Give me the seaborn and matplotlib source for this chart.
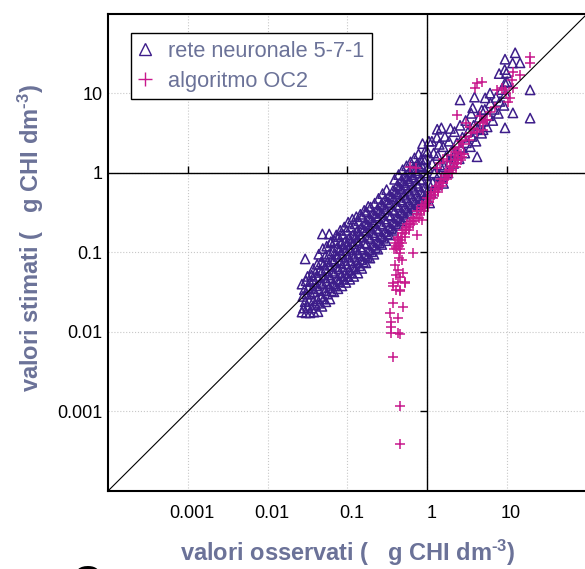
import matplotlib
matplotlib.use("Agg")
import matplotlib.pyplot as plt
from matplotlib.lines import Line2D
from matplotlib.transforms import ScaledTranslation
import seaborn as sns

# rete neuronale 5-7-1 (valori osservati / stimati, ug CHI dm-3)
tri_x = [
    0.0269, 0.0282, 0.0295, 0.0276, 0.0288, 0.0269, 0.0295,
    0.0302, 0.0316, 0.0331, 0.0309, 0.0323, 0.0302, 0.0316,
    0.0339, 0.0355, 0.0372, 0.0347, 0.0363, 0.0339, 0.0355, 0.0372,
    0.0380, 0.0398, 0.0417, 0.0389, 0.0407, 0.0380, 0.0398, 0.0417,
    0.0427, 0.0447, 0.0468, 0.0437, 0.0457, 0.0427, 0.0447, 0.0468, 0.0437,
    0.0479, 0.0501, 0.0525, 0.0490, 0.0513, 0.0479, 0.0501, 0.0525, 0.0490, 0.0485, 0.059, 0.062,
    0.0537, 0.0562, 0.0589, 0.0549, 0.0575, 0.0537, 0.0562, 0.0589, 0.0549,
    0.0603, 0.0631, 0.0661, 0.0617, 0.0646, 0.0603, 0.0631, 0.0661, 0.0617,
    0.0676, 0.0708, 0.0741, 0.0692, 0.0724, 0.0676, 0.0708, 0.0741, 0.0692, 0.0724,
    0.0759, 0.0794, 0.0832, 0.0776, 0.0813, 0.0759, 0.0794, 0.0832, 0.0776, 0.0813,
    0.0851, 0.0891, 0.0933, 0.0871, 0.0912, 0.0851, 0.0891, 0.0933, 0.0871, 0.0912,
    0.0955, 0.100, 0.105, 0.0977, 0.102, 0.0955, 0.100, 0.105, 0.0977, 0.102,
    0.107, 0.112, 0.117, 0.110, 0.115, 0.107, 0.112, 0.117, 0.110, 0.115,
    0.120, 0.126, 0.132, 0.123, 0.129, 0.120, 0.126, 0.132, 0.123, 0.129,
    0.135, 0.141, 0.148, 0.138, 0.145, 0.135, 0.141, 0.148, 0.138, 0.145,
    0.151, 0.158, 0.165, 0.154, 0.162, 0.151, 0.158, 0.165, 0.154, 0.162,
    0.170, 0.178, 0.186, 0.174, 0.182, 0.170, 0.178, 0.186, 0.174, 0.182,
    0.191, 0.200, 0.209, 0.195, 0.205, 0.191, 0.200, 0.209, 0.195,
    0.214, 0.224, 0.235, 0.219, 0.229, 0.214, 0.224, 0.235, 0.219,
    0.240, 0.251, 0.263, 0.245, 0.257, 0.240, 0.251, 0.263, 0.245,
    0.269, 0.282, 0.295, 0.275, 0.288, 0.269, 0.282, 0.295, 0.275,
    0.302, 0.316, 0.331, 0.309, 0.323, 0.302, 0.316, 0.331, 0.309,
    0.339, 0.355, 0.372, 0.347, 0.363, 0.339, 0.355, 0.372,
    0.380, 0.398, 0.417, 0.389, 0.407, 0.380, 0.398, 0.417, 0.389,
    0.427, 0.447, 0.468, 0.437, 0.457, 0.427, 0.447, 0.468, 0.437,
    0.479, 0.501, 0.525, 0.490, 0.513, 0.479, 0.501, 0.525, 0.490,
    0.537, 0.562, 0.589, 0.549, 0.575, 0.537, 0.562, 0.589, 0.549,
    0.603, 0.631, 0.661, 0.617, 0.646, 0.603, 0.631, 0.661, 0.617,
    0.676, 0.708, 0.741, 0.692, 0.724, 0.676, 0.708, 0.741, 0.692,
    0.759, 0.794, 0.832, 0.776, 0.813, 0.759, 0.794, 0.832, 0.776,
    0.851, 0.891, 0.933, 0.871, 0.912, 0.851, 0.891, 0.933, 0.871,
    0.955, 1.0, 1.047, 0.977, 1.023, 0.955, 1.0, 1.047,
    1.12, 1.17, 1.22, 1.15, 1.20, 1.14,
    1.32, 1.38, 1.44, 1.35, 1.41, 1.33,
    1.55, 1.62, 1.70, 1.58, 1.66,
    1.82, 1.91, 2.00, 1.87, 1.95,
    2.14, 2.24, 2.34, 2.19,
    2.51, 2.63, 2.75, 2.57,
    2.95, 3.09, 3.24, 3.02,
    3.47, 3.63, 3.80, 3.55,
    4.07, 4.27, 4.47,
    4.79, 5.01, 5.25,
    5.62, 5.89, 6.17,
    6.61, 6.92, 7.24,
    7.76, 8.13, 8.51, 7.94,
    9.12, 9.55, 10.0, 9.33,
    2.57, 3.7, 4.8, 4.2, 2.40, 1.6, 1.07, 1.32, 1.5, 12.6, 9.4, 14.5,
    11.7, 9.8, 9.4, 19.4, 11.8, 19.4, 9.4, 5.0, 3.9, 5.3, 6.1,
]
tri_y = [
    0.0178, 0.020, 0.024, 0.028, 0.034, 0.040, 0.083,
    0.0174, 0.021, 0.025, 0.030, 0.036, 0.044, 0.050,
    0.0174, 0.020, 0.0245, 0.030, 0.035, 0.043, 0.052, 0.063,
    0.0178, 0.022, 0.026, 0.032, 0.038, 0.046, 0.056, 0.071,
    0.018, 0.023, 0.028, 0.035, 0.042, 0.050, 0.060, 0.076, 0.095,
    0.021, 0.026, 0.033, 0.040, 0.048, 0.058, 0.071, 0.089, 0.112, 0.171, 0.171, 0.137,
    0.024, 0.030, 0.036, 0.044, 0.052, 0.063, 0.076, 0.095, 0.120,
    0.026, 0.033, 0.040, 0.048, 0.058, 0.069, 0.083, 0.105, 0.132,
    0.032, 0.038, 0.046, 0.055, 0.066, 0.079, 0.095, 0.115, 0.141, 0.166,
    0.035, 0.043, 0.051, 0.062, 0.074, 0.089, 0.107, 0.129, 0.158, 0.19,
    0.038, 0.046, 0.055, 0.066, 0.079, 0.095, 0.115, 0.138, 0.17, 0.209,
    0.042, 0.050, 0.060, 0.072, 0.087, 0.105, 0.126, 0.151, 0.19, 0.24,
    0.046, 0.055, 0.066, 0.079, 0.095, 0.115, 0.138, 0.166, 0.209, 0.263,
    0.050, 0.062, 0.074, 0.089, 0.107, 0.129, 0.155, 0.186, 0.229, 0.282,
    0.055, 0.068, 0.081, 0.098, 0.117, 0.141, 0.17, 0.204, 0.251, 0.302,
    0.063, 0.076, 0.091, 0.110, 0.132, 0.158, 0.19, 0.229, 0.282, 0.339,
    0.074, 0.089, 0.107, 0.129, 0.155, 0.186, 0.224, 0.269, 0.324, 0.38,
    0.085, 0.102, 0.123, 0.148, 0.178, 0.214, 0.257, 0.309, 0.372,
    0.095, 0.115, 0.138, 0.166, 0.20, 0.24, 0.288, 0.347, 0.417,
    0.110, 0.132, 0.158, 0.19, 0.229, 0.275, 0.331, 0.398, 0.479,
    0.126, 0.151, 0.182, 0.219, 0.263, 0.316, 0.38, 0.457, 0.55,
    0.141, 0.17, 0.204, 0.245, 0.295, 0.355, 0.427, 0.513, 0.617,
    0.166, 0.20, 0.24, 0.288, 0.347, 0.417, 0.50, 0.603,
    0.19, 0.229, 0.275, 0.331, 0.398, 0.479, 0.575, 0.692, 0.832,
    0.219, 0.263, 0.316, 0.38, 0.457, 0.55, 0.661, 0.794, 0.955,
    0.251, 0.302, 0.363, 0.437, 0.525, 0.631, 0.759, 0.912, 1.10,
    0.282, 0.339, 0.407, 0.49, 0.589, 0.708, 0.851, 1.02, 1.23,
    0.316, 0.38, 0.457, 0.55, 0.661, 0.794, 0.955, 1.15, 1.38,
    0.355, 0.427, 0.513, 0.617, 0.741, 0.891, 1.07, 1.29, 1.55,
    0.398, 0.479, 0.575, 0.692, 0.832, 1.0, 1.20, 1.45, 1.74,
    0.437, 0.537, 0.661, 0.813, 1.0, 1.23, 1.51, 1.86, 2.34,
    0.468, 0.589, 0.741, 0.933, 1.17, 1.48, 1.86, 2.51,
    0.562, 0.759, 1.0, 1.32, 1.78, 2.51,
    0.708, 0.933, 1.26, 1.66, 2.29, 3.55,
    0.891, 1.20, 1.58, 2.14, 2.88,
    1.0, 1.38, 1.86, 2.51, 3.63,
    1.32, 1.78, 2.40, 3.31,
    1.51, 2.09, 2.82, 3.98,
    1.78, 2.40, 3.31, 4.57,
    2.14, 2.88, 3.98, 5.62,
    2.51, 3.55, 5.01,
    3.16, 4.47, 6.31,
    3.80, 5.25, 7.59,
    4.57, 6.31, 8.91,
    5.62, 7.94, 11.2, 17.8,
    7.08, 10.0, 14.1, 20.0,
    8.3, 6.6, 6.2, 1.6, 1.70, 0.74, 0.42, 2.8, 3.7, 32.5, 27.0, 24.3,
    24.2, 18.2, 13.6, 11.1, 5.7, 4.9, 3.7, 3.5, 9.0, 8.8, 10.1,
]

# algoritmo OC2
oc2_x = [
    0.380, 0.417, 0.457, 0.407, 0.447, 0.398, 0.437, 0.479, 0.427, 0.468,
    0.432, 0.473, 0.519, 0.479, 0.525, 0.490, 0.537, 0.589, 0.543, 0.596,
    0.556, 0.610, 0.668, 0.624, 0.684, 0.653, 0.716, 0.785, 0.733, 0.804,
    0.750, 0.822, 0.902, 0.832, 0.912, 0.851, 0.933, 1.023, 0.955, 1.047,
    0.989, 1.084, 1.189, 1.096, 1.202, 1.122, 1.230, 1.349, 1.259, 1.380,
    1.288, 1.413, 1.549, 1.445, 1.585, 1.479, 1.622, 1.778, 1.660, 1.820,
    1.698, 1.862, 2.042, 1.884, 2.065, 1.928, 2.113, 2.317, 2.163, 2.371,
    2.213, 2.427, 2.661, 2.455, 2.692, 2.630, 2.884,
    0.43, 0.45, 0.48, 0.43, 0.49, 0.37, 0.45, 0.37, 0.49, 0.34,
    0.355, 0.355, 0.425, 0.45, 0.355, 0.37, 0.46, 0.45, 0.66, 0.74,
    0.52, 0.43, 0.37, 0.52, 0.41, 0.46, 0.43, 0.40, 0.44, 0.39,
    0.46, 0.40, 0.87,
    2.00, 2.29, 2.14, 2.51, 2.82, 2.63, 3.09, 3.31, 3.55, 3.80,
    4.17, 3.39, 4.57, 5.01, 5.25, 5.62, 3.09, 6.03, 7.08, 5.01,
    2.34, 4.57, 7.41, 9.33, 8.71, 9.77, 11.0, 10.2, 11.7, 11.5,
    11.7, 14.5, 19.5, 19.5, 4.17, 4.79, 3.98, 1.32, 1.45, 0.60,
    0.72, 1.58, 1.74,
]
oc2_y = [
    0.110, 0.110, 0.110, 0.120, 0.120, 0.132, 0.132, 0.132, 0.145, 0.145,
    0.158, 0.158, 0.158, 0.174, 0.174, 0.191, 0.191, 0.191, 0.209, 0.209,
    0.229, 0.229, 0.229, 0.251, 0.251, 0.275, 0.275, 0.275, 0.302, 0.302,
    0.331, 0.331, 0.331, 0.363, 0.363, 0.398, 0.398, 0.398, 0.437, 0.437,
    0.479, 0.479, 0.479, 0.525, 0.525, 0.575, 0.575, 0.575, 0.631, 0.631,
    0.692, 0.692, 0.692, 0.759, 0.759, 0.832, 0.832, 0.832, 0.912, 0.912,
    1.0, 1.0, 1.0, 1.096, 1.096, 1.202, 1.202, 1.202, 1.318, 1.318,
    1.445, 1.445, 1.445, 1.585, 1.585, 1.738, 1.738,
    0.152, 0.098, 0.081, 0.060, 0.056, 0.041, 0.034, 0.023, 0.0205, 0.0174,
    0.0134, 0.0116, 0.0097, 0.0093, 0.0097, 0.0049, 0.00117, 0.00039, 0.098, 0.166,
    0.043, 0.015, 0.038, 0.041, 0.034, 0.033, 0.043, 0.114, 0.085, 0.070,
    0.049, 0.052, 0.257,
    1.66, 1.82, 2.00, 2.14, 2.29, 2.51, 2.82, 2.63, 3.16, 3.55,
    3.31, 3.80, 4.27, 4.37, 4.68, 4.68, 4.27, 5.89, 6.76, 3.47,
    5.37, 5.25, 11.0, 11.0, 11.7, 10.0, 8.71, 7.76, 11.7, 14.8,
    18.6, 17.0, 28.8, 24.0, 13.5, 14.0, 11.7, 1.15, 1.35, 1.19,
    1.15, 1.51, 1.41,
]

decades = [0.001, 0.01, 0.1, 1, 10]
decade_labels = ["0.001", "0.01", "0.1", "1", "10"]

purple = "#3d1d8a"
magenta = "#c8188c"
label_col = "#6b7298"

sns.set_theme(style="white")
plt.rcParams["font.family"] = ["Liberation Sans", "DejaVu Sans"]
plt.rcParams["mathtext.default"] = "regular"

fig = plt.figure(figsize=(5.85, 5.69), dpi=100)
ax = fig.add_axes([0.1846, 0.1371, 0.8188, 0.8383])
ax.set_xscale("log")
ax.set_yscale("log")

sns.scatterplot(x=tri_x, y=tri_y, marker="^", s=45, facecolor="none",
                edgecolor=purple, linewidth=1.1, ax=ax, zorder=2, legend=False)
sns.scatterplot(x=oc2_x, y=oc2_y, marker="+", s=45, color=magenta,
                linewidth=1.1, ax=ax, zorder=2.5, legend=False)

ax.set_xlim(1e-4, 1e2)
ax.set_ylim(1e-4, 1e2)

# linee di riferimento
ax.axline((1e-4, 1e-4), (1e2, 1e2), color="black", lw=0.8, zorder=3)
ax.axhline(1, color="black", lw=1.0, zorder=3)
ax.axvline(1, color="black", lw=1.0, zorder=3)
others = [d for d in decades if d != 1]
ax.plot(others, [1] * len(others), ls="none", marker=2, ms=5, mew=1.0, color="black", zorder=3)
ax.plot([1] * len(others), others, ls="none", marker=0, ms=5, mew=1.0, color="black", zorder=3)

ax.set_xticks(decades)
ax.set_xticklabels(decade_labels)
ax.set_yticks(decades)
ax.set_yticklabels(decade_labels)
ax.minorticks_off()
ax.tick_params(length=0, labelsize=13, labelcolor="black")
ax.tick_params(axis="x", pad=10)
ax.tick_params(axis="y", pad=4)
for lab in ax.get_xticklabels():
    lab.set_transform(lab.get_transform() + ScaledTranslation(0.04, 0, fig.dpi_scale_trans))
ax.grid(True, which="major", ls=":", color="#c8c8c8", lw=0.8)

for sp in ax.spines.values():
    sp.set_color("black")
    sp.set_linewidth(1.5)

ax.set_xlabel("valori osservati (   g CHI dm$^{\u2010 3}$)", fontsize=17, fontweight="bold", color=label_col)
ax.set_ylabel("valori stimati (   g CHI dm$^{\u2010 3}$)", fontsize=17, fontweight="bold", color=label_col)
ax.xaxis.set_label_coords(0.5, -0.098)
ax.yaxis.set_label_coords(-0.13, 0.53)

handles = [
    Line2D([], [], ls="none", marker="^", mfc="none", mec=purple, ms=8, mew=1.0),
    Line2D([], [], ls="none", marker="+", color=magenta, ms=10, mew=1.0),
]
leg = ax.legend(handles, ["rete neuronale 5-7-1", "algoritmo OC2"], loc="upper left",
                bbox_to_anchor=(0.048, 0.960), borderaxespad=0, fontsize=15.7,
                labelcolor=label_col, frameon=True, fancybox=False, framealpha=1,
                edgecolor="black", handlelength=0.6, handletextpad=0.75,
                borderpad=0.35, labelspacing=0.42)
leg.get_frame().set_linewidth(1.0)

fig.text(0.147, 0.009, "C", fontsize=30, fontweight="bold", ha="center", va="top", color="black")

fig.savefig("out.png", dpi=100)
